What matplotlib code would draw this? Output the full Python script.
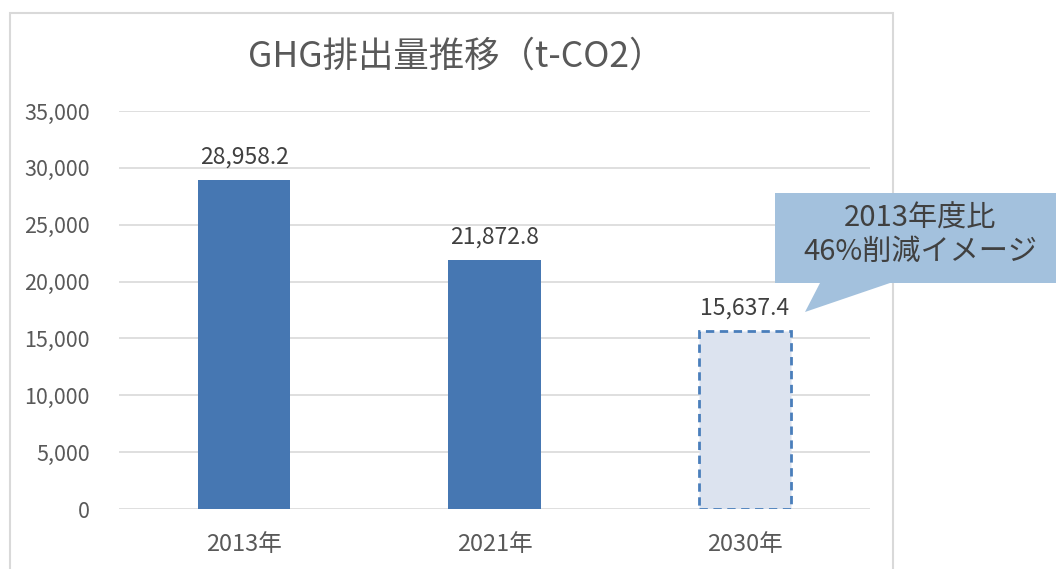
import matplotlib
matplotlib.use('Agg')
import matplotlib.pyplot as plt
from matplotlib.patches import Rectangle, Polygon

plt.rcParams['font.family'] = ['Noto Sans CJK JP', 'DejaVu Sans']

years = ['2013年', '2021年', '2030年']
emissions = [28958.2, 21872.8, 15637.4]
value_labels = ['28,958.2', '21,872.8', '15,637.4']
yticks = [0, 5000, 10000, 15000, 20000, 25000, 30000, 35000]
title = 'GHG排出量推移（t-CO2）'
note = '2013年度比\n46%削減イメージ'

W, H = 1056, 569
txt = '#595959'

fig = plt.figure(figsize=(W / 100, H / 100), dpi=100)
ax = fig.add_axes([119 / W, 1 - 509 / H, 751 / W, 398 / H])

# outer chart frame
fig.patches.append(Rectangle((10 / W, -0.05), 883 / W, 1.05 - 13 / H,
                             transform=fig.transFigure, fill=False,
                             edgecolor='#d9d9d9', lw=1.5))

x = range(len(years))
colors = ['#4677b2', '#4677b2', '#dce3ef']
bars = ax.bar(x, emissions, width=0.37, color=colors, zorder=3)
bars[2].set_edgecolor('#4a7ebb')
bars[2].set_linestyle((0, (3, 2)))
bars[2].set_linewidth(2)

for xi, v, lab in zip(x, emissions, value_labels):
    ax.text(xi, v + 1000, lab, ha='center', va='bottom', fontsize=16.5, color='#404040')

ax.set_xlim(-0.5, 2.5)
ax.set_ylim(0, 35000)
ax.set_yticks(yticks)
ax.set_yticklabels([f'{t:,}' for t in yticks])
ax.set_xticks(list(x))
ax.set_xticklabels(years)
ax.tick_params(axis='y', length=0, pad=21, labelsize=15.5, labelcolor=txt)
ax.tick_params(axis='x', length=0, pad=17, labelsize=17, labelcolor=txt)
ax.grid(axis='y', color='#d9d9d9', lw=1.2, zorder=0)
for s in ax.spines.values():
    s.set_visible(False)

fig.text(456 / W, 1 - 57 / H, title, ha='center', va='center', fontsize=25.5, color=txt)

# callout
def fp(px, py):
    return (px / W, 1 - py / H)

call = Polygon([fp(775, 193), fp(1060, 193), fp(1060, 283), fp(890, 283),
                fp(805, 312), fp(820, 283), fp(775, 283)],
               closed=True, transform=fig.transFigure, facecolor='#a3c1dd',
               edgecolor='none', zorder=5)
fig.patches.append(call)
fig.text(920 / W, 1 - 235 / H, note, ha='center', va='center', fontsize=21,
         color='#404040', linespacing=1.15, zorder=6)

fig.savefig('out.png', dpi=100)
